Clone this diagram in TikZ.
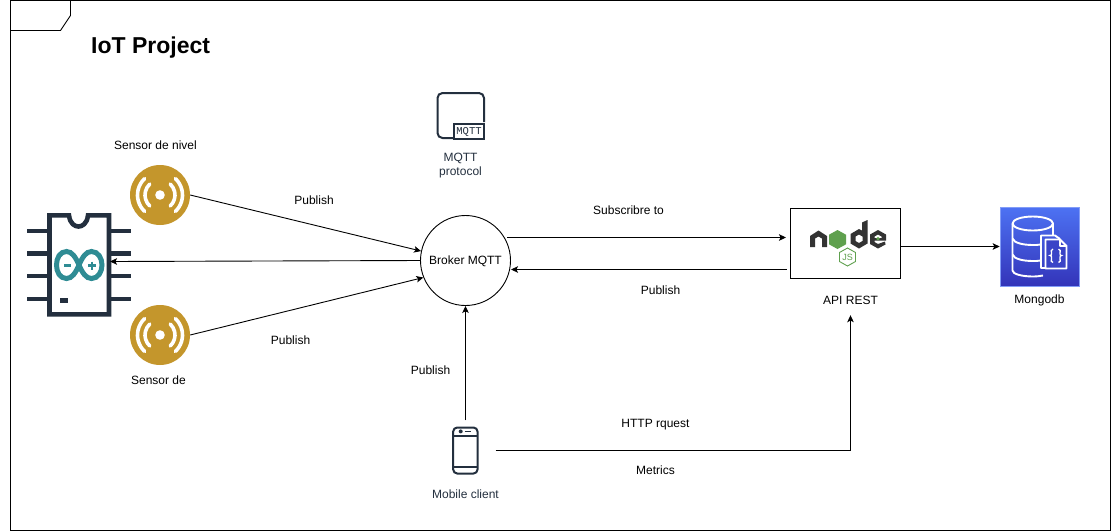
\documentclass[tikz,border=0pt]{standalone}
\usepackage{fontspec}
\setmainfont{Liberation Sans}
\newfontfamily\iconmono{Liberation Mono}
\usetikzlibrary{arrows.meta,calc}
\definecolor{awsdark}{HTML}{232F3E}
\definecolor{gold}{HTML}{C4962C}
\definecolor{ateal}{HTML}{2F8C94}
\definecolor{nodedark}{HTML}{333333}
\definecolor{nodegreen}{HTML}{5FA04E}
\definecolor{mongotop}{HTML}{4D72F3}
\definecolor{mongobot}{HTML}{3334B9}
\tikzset{
  lbl/.style={font=\fontsize{12}{14}\selectfont,align=center,inner sep=0pt,text=black},
  dlbl/.style={lbl,text=awsdark},
  conn/.style={draw=black,line width=0.9pt,-{Stealth[length=7pt,width=6.5pt,inset=1.6pt]}},
  frameline/.style={draw=black,line width=0.9pt},
  pinline/.style={draw=awsdark,line width=4.4pt},
  awsline/.style={draw=awsdark,line width=2pt},
  dbline/.style={draw=white,line width=1.9pt,line join=round},
  sensorarc/.style={draw=white,line width=3.6pt,line cap=round},
}
\begin{document}
\begin{tikzpicture}[x=1pt,y=-1pt]
\useasboundingbox (0,0) rectangle (1111,531);
% frame
\draw[frameline] (10.5,0.5) rectangle (1110.5,530.5);
\draw[frameline] (10.5,30.5) -- (60.5,30.5) -- (70.5,15.5) -- (70.5,0.5);
\node[anchor=west,inner sep=0pt,font=\bfseries\fontsize{23}{28}\selectfont] (title) at (91,47.5) {IoT Project};

% arduino
\node[inner sep=0pt,minimum width=104pt,minimum height=104pt] (ard) at (79,264.5) {};
\coordinate (ardin) at (110,261.5);
\foreach \yy in {231,253.5,276,298.7}{
  \draw[pinline] (27,\yy) -- (47,\yy);
  \draw[pinline] (111,\yy) -- (131,\yy);
}
\draw[draw=awsdark,line width=4.6pt,fill=white,line join=miter]
  (49.5,215.3) -- (69,215.3) .. controls (70,224) and (75,226.5) .. (78.5,226.5)
  .. controls (82,226.5) and (87,224) .. (88,215.3) -- (109,215.3) -- (109,314.3) -- (49.5,314.3) -- cycle;
\fill[awsdark] (60,297.5) rectangle (68,302.5);
\draw[ateal,line width=5pt]
  (79,265) .. controls (75.5,257) and (72,251.5) .. (66.5,251.5)
  .. controls (60,251.5) and (56.5,258) .. (56.5,265)
  .. controls (56.5,272) and (60,278.5) .. (66.5,278.5)
  .. controls (72,278.5) and (75.5,273) .. (79,265)
  .. controls (82.5,257) and (86,251.5) .. (91.5,251.5)
  .. controls (98,251.5) and (102,258) .. (102,265)
  .. controls (102,272) and (98,278.5) .. (91.5,278.5)
  .. controls (86,278.5) and (82.5,273) .. (79,265) -- cycle;
\draw[ateal,line width=2.6pt] (64,265.5) -- (71,265.5);
\draw[ateal,line width=2.4pt] (88,265.5) -- (96,265.5) (92,261.5) -- (92,269.5);

% sensors
\node[circle,fill=gold,inner sep=0pt,minimum size=60pt] (sone) at (160,195) {};
\node[circle,fill=gold,inner sep=0pt,minimum size=60pt] (stwo) at (160,335) {};
\foreach \cx/\cy in {160/195,160/335}{
  \fill[white] (\cx,\cy) circle (4.8pt);
  \draw[sensorarc] ($(\cx,\cy)+(47:15)$) arc[start angle=47,end angle=-47,radius=15];
  \draw[sensorarc] ($(\cx,\cy)+(133:15)$) arc[start angle=133,end angle=227,radius=15];
  \draw[sensorarc] ($(\cx,\cy)+(47:22.5)$) arc[start angle=47,end angle=-47,radius=22.5];
  \draw[sensorarc] ($(\cx,\cy)+(133:22.5)$) arc[start angle=133,end angle=227,radius=22.5];
}
\node[lbl] (sonel) at (155.5,145) {Sensor de nivel};
\node[lbl] (stwol) at (158.5,380) {Sensor de};

% MQTT icon
\draw[awsline,rounded corners=5pt] (484,122) -- (484,93) -- (437.5,93) -- (437.5,138) -- (454,138);
\draw[awsline,fill=white] (454,123.5) rectangle (484,138.5);
\node[inner sep=0pt,text=awsdark,font=\iconmono\fontsize{10.5}{12}\selectfont] (mqtticon) at (469,131.5) {MQTT};
\node[dlbl] (mqttl) at (460.5,166) {MQTT\\protocol};

% broker
\node[circle,draw=black,line width=0.9pt,fill=white,inner sep=0pt,minimum size=90pt,text depth=0pt,font=\fontsize{12}{14}\selectfont] (broker) at (465.5,260.5) {Broker MQTT};

% API
\node[draw=black,line width=0.9pt,fill=white,inner sep=0pt,minimum width=110pt,minimum height=70pt] (api) at (845.5,243.5) {};
\fill[nodedark] (810,247) -- (810,236) -- (818.5,230.5) -- (827,236) -- (827,247) -- (822,247) -- (822,238.5) -- (818.5,236.5) -- (815,238.5) -- (815,247) -- cycle;
\fill[nodegreen] (837.5,230) -- (846,234.7) -- (846,244.3) -- (837.5,249) -- (829,244.3) -- (829,234.7) -- cycle;
\fill[nodedark,even odd rule] (867.5,220) -- (867.5,243.5) -- (859,248.5) -- (850.5,243.5) -- (850.5,234) -- (859,229) -- (862,230.5) -- (862,222.5) -- cycle
  (859,234.5) -- (855.5,236.5) -- (855.5,241) -- (859,243) -- (862.5,241) -- (862.5,236.5) -- cycle;
\fill[nodedark,even odd rule] (878,230) -- (886,234.5) -- (886,240.5) -- (874.5,240.5) -- (874.5,242) -- (878,244) -- (885,241.5) -- (885.5,244.5) -- (878,248.5) -- (870,244) -- (870,234.5) -- cycle
  (878,234.5) -- (874.5,236.5) -- (874.5,238) -- (881.5,238) -- (881.5,236.5) -- cycle;
\fill[nodegreen] (878,238.8) circle (1.9pt);
\draw[nodegreen,line width=0.9pt,fill=white] (847.5,248) -- (855.5,252.5) -- (855.5,261.5) -- (847.5,266) -- (839.5,261.5) -- (839.5,252.5) -- cycle;
\node[inner sep=0pt,text=nodegreen,font=\fontsize{9}{10}\selectfont] (jsmark) at (847.5,257.3) {JS};
\node[lbl,minimum height=30pt] (apil) at (850.5,300) {API REST};

% mongo
\node[inner sep=0pt,minimum size=79pt,top color=mongotop,bottom color=mongobot,draw=mongotop!70!white,line width=0.6pt] (mongo) at (1039.5,246.5) {};
\draw[dbline] (1012.5,224) -- (1012.5,270.5) .. controls (1012.5,274) and (1022,276.5) .. (1033,276.5) .. controls (1037,276.5) and (1040,276) .. (1043,275.5);
\draw[dbline] (1053,224) -- (1053,235);
\draw[dbline] (1032.75,223.5) ellipse (20.25pt and 7pt);
\draw[dbline] (1012.5,238.5) .. controls (1014,243) and (1023,245) .. (1033,245) .. controls (1036,245) and (1038,245) .. (1040.5,244.5);
\draw[dbline] (1012.5,254.5) .. controls (1014,259) and (1023,261) .. (1033,261) .. controls (1036,261) and (1038,261) .. (1040.5,260.5);
\draw[dbline] (1045,268) -- (1041,268) -- (1041,235.5) -- (1055,235.5) -- (1060,239);
\draw[dbline,fill=mongobot!75!mongotop] (1045.5,239.5) -- (1060,239.5) -- (1066.5,246) -- (1066.5,268.5) -- (1045.5,268.5) -- cycle;
\draw[dbline,line width=1.2pt] (1060,239.5) -- (1060,246) -- (1066.5,246);
\draw[draw=white,line width=1.3pt] (1053,249) .. controls (1050.5,249) and (1051.5,251.5) .. (1051.5,254) .. controls (1051.5,255.5) and (1050.5,255.5) .. (1050,255.5) .. controls (1051.5,255.5) and (1051.5,256.5) .. (1051.5,258) .. controls (1051.5,260.5) and (1050.5,262.5) .. (1053,262.5);
\draw[draw=white,line width=1.3pt] (1058.5,249) .. controls (1061,249) and (1060,251.5) .. (1060,254) .. controls (1060,255.5) and (1061,255.5) .. (1061.5,255.5) .. controls (1060,255.5) and (1060,256.5) .. (1060,258) .. controls (1060,260.5) and (1061,262.5) .. (1058.5,262.5);
\node[lbl] (mongol) at (1039.5,300) {Mongodb};

% phone
\node[inner sep=0pt,minimum size=60pt] (phone) at (465.5,450.5) {};
\draw[awsline,rounded corners=4pt] (453.2,427.5) rectangle (477.5,473.5);
\draw[awsline] (453.2,435.5) -- (477.5,435.5) (453.2,466.5) -- (477.5,466.5);
\fill[awsdark] (460.7,431.4) circle (2pt);
\draw[awsdark,line width=1.8pt] (464.5,431.4) -- (470.5,431.4);
\node[dlbl] (phonel) at (465.5,494) {Mobile client};

% connectors
\coordinate (subfrom) at (507,237.5);
\coordinate (subto) at (786,237.5);
\coordinate (pubfrom) at (786.5,269.5);
\coordinate (pubto) at (511,269.5);
\draw[conn] (sone.east) -- (broker.168);
\draw[conn] (stwo.east) -- (broker.202);
\draw[conn] (broker.west) -- (ardin);
\draw[conn] (subfrom) -- (subto);
\draw[conn] (pubfrom) -- (pubto);
\draw[conn] (api.east |- mongo.west) -- (mongo.west);
\draw[conn] (phone.north) -- (broker.south);
\draw[conn] (phone.east) -| (apil.south);

% labels
\node[lbl] (p1) at (314,200) {Publish};
\node[lbl] (p2) at (290.5,340) {Publish};
\node[lbl] (p3) at (660.5,290) {Publish};
\node[lbl] (p4) at (430.5,370) {Publish};
\node[lbl] (sub) at (628.5,210) {Subscribre to};
\node[lbl] (http) at (655.5,425) {HTTP rquest};
\node[lbl] (metrics) at (655.5,470) {Metrics};
\end{tikzpicture}
\end{document}
